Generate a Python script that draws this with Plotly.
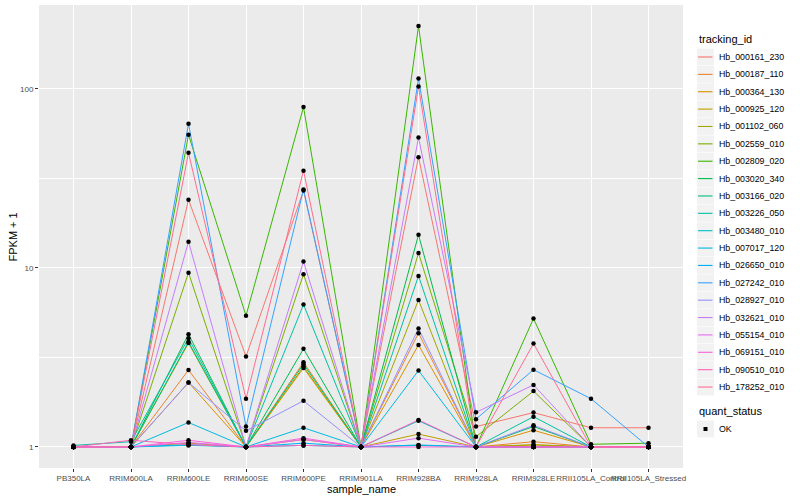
import plotly.graph_objects as go
import numpy as np

samples = ["PB350LA", "RRIM600LA", "RRIM600LE", "RRIM600SE", "RRIM600PE", "RRIM901LA",
           "RRIM928BA", "RRIM928LA", "RRIM928LE", "RRII105LA_Control", "RRII105LA_Stressed"]

tracking_ids = ["Hb_000161_230", "Hb_000187_110", "Hb_000364_130", "Hb_000925_120", "Hb_001102_060",
                "Hb_002559_010", "Hb_002809_020", "Hb_003020_340", "Hb_003166_020", "Hb_003226_050",
                "Hb_003480_010", "Hb_007017_120", "Hb_026650_010", "Hb_027242_010", "Hb_028927_010",
                "Hb_032621_010", "Hb_055154_010", "Hb_069151_010", "Hb_090510_010", "Hb_178252_010"]

colors = ["#F8766D", "#EA8331", "#D89000", "#C09B00", "#A3A500", "#7CAE00", "#39B600", "#00BB4E",
          "#00BF7D", "#00C1A3", "#00BFC4", "#00BAE0", "#00B0F6", "#35A2FF", "#9590FF", "#C77CFF",
          "#E76BF3", "#FA62DB", "#FF62BC", "#FF6C91"]

# FPKM + 1 per sample (order of `samples`)
hb_000161_230 = [1.00, 1.00, 24.0, 3.20, 27.0, 1.00, 41.5, 1.30, 1.555, 1.28, 1.28]
hb_000187_110 = [1.00, 1.00, 2.69, 1.00, 2.97, 1.00, 4.32, 1.00, 1.07, 1.00, 1.00]
hb_000364_130 = [1.00, 1.00, 2.29, 1.00, 2.76, 1.00, 3.71, 1.00, 1.24, 1.00, 1.00]
hb_000925_120 = [1.00, 1.00, 1.05, 1.00, 1.10, 1.00, 1.18, 1.00, 1.03, 1.00, 1.00]
hb_001102_060 = [1.00, 1.00, 3.80, 1.00, 2.81, 1.00, 6.62, 1.00, 1.026, 1.00, 1.00]
hb_002559_010 = [1.00, 1.00, 9.40, 1.00, 9.22, 1.00, 12.1, 1.14, 2.05, 1.00, 1.00]
hb_002809_020 = [1.00, 1.00, 55.3, 5.41, 79.0, 1.00, 224.0, 1.00, 5.21, 1.035, 1.05]
hb_003020_340 = [1.00, 1.00, 4.26, 1.00, 3.53, 1.00, 15.3, 1.00, 1.30, 1.00, 1.00]
hb_003166_020 = [1.00, 1.00, 3.86, 1.00, 2.90, 1.00, 1.02, 1.00, 1.00, 1.00, 1.00]
hb_003226_050 = [1.02, 1.07, 4.05, 1.00, 6.24, 1.00, 9.02, 1.00, 1.476, 1.00, 1.00]
hb_003480_010 = [1.00, 1.00, 1.02, 1.00, 1.02, 1.00, 1.40, 1.00, 1.00, 1.00, 1.00]
hb_007017_120 = [1.00, 1.00, 1.37, 1.00, 1.28, 1.00, 2.67, 1.00, 1.00, 1.00, 1.00]
hb_026650_010 = [1.00, 1.00, 1.03, 1.00, 1.05, 1.00, 1.026, 1.00, 1.00, 1.00, 1.00]
hb_027242_010 = [1.00, 1.00, 63.7, 1.30, 27.4, 1.00, 114.0, 1.43, 2.70, 1.86, 1.00]
hb_028927_010 = [1.00, 1.00, 2.29, 1.23, 1.81, 1.00, 4.58, 1.00, 1.32, 1.00, 1.00]
hb_032621_010 = [1.00, 1.00, 14.0, 1.00, 10.85, 1.00, 53.4, 1.56, 2.22, 1.00, 1.00]
hb_055154_010 = [1.00, 1.00, 1.06, 1.00, 1.10, 1.00, 1.12, 1.00, 1.00, 1.00, 1.00]
hb_069151_010 = [1.00, 1.00, 1.09, 1.00, 1.12, 1.00, 1.00, 1.00, 1.00, 1.00, 1.00]
hb_090510_010 = [1.00, 1.09, 1.03, 1.00, 1.02, 1.00, 1.415, 1.00, 1.00, 1.00, 1.00]
hb_178252_010 = [1.00, 1.00, 43.9, 1.86, 34.9, 1.00, 103.0, 1.00, 3.78, 1.00, 1.00]

series = [hb_000161_230, hb_000187_110, hb_000364_130, hb_000925_120, hb_001102_060,
          hb_002559_010, hb_002809_020, hb_003020_340, hb_003166_020, hb_003226_050,
          hb_003480_010, hb_007017_120, hb_026650_010, hb_027242_010, hb_028927_010,
          hb_032621_010, hb_055154_010, hb_069151_010, hb_090510_010, hb_178252_010]

quant_status = "OK"

y_major = [1, 10, 100]
y_minor = [10 ** 0.5, 10 ** 1.5]

FONT = "Liberation Sans, Arial, Helvetica, sans-serif"

# layout geometry (pixels)
W, H = 800, 500
ML, MR, MT, MB = 39, 117, 5, 32
PW, PH = W - ML - MR, H - MT - MB


def px(xp):
    return (xp - ML) / PW


def py(yp):
    return (H - MB - yp) / PH


fig = go.Figure()
for name, col, vals in zip(tracking_ids, colors, series):
    fig.add_trace(go.Scatter(x=samples, y=vals, mode="lines", name=name,
                             line=dict(color=col, width=1.0), showlegend=False))

all_x = [s for _ in series for s in samples]
all_y = [v for vals in series for v in vals]
fig.add_trace(go.Scatter(x=all_x, y=all_y, mode="markers", name=quant_status,
                         marker=dict(color="black", size=4.5, symbol="circle"),
                         showlegend=False))

logs = np.log10(all_y)
span = logs.max() - logs.min()
yrange = [logs.min() - 0.05 * span, logs.max() + 0.05 * span]

# ggplot-style legend drawn in paper coordinates
shapes = []
annotations = []
KEY_X0, KEY_X1, TEXT_X = 697, 714, 717
ITEM0_Y, ITEM_DY = 57, 17.37

annotations.append(dict(text="tracking_id", x=px(KEY_X0), y=py(39), xref="paper", yref="paper",
                        xanchor="left", yanchor="middle", showarrow=False,
                        font=dict(size=11, color="black", family=FONT)))
for i, (name, col) in enumerate(zip(tracking_ids, colors)):
    yc = ITEM0_Y + ITEM_DY * i
    shapes.append(dict(type="rect", xref="paper", yref="paper",
                       x0=px(KEY_X0), x1=px(KEY_X1), y0=py(yc - 8.4), y1=py(yc + 8.4),
                       fillcolor="#F2F2F2", line=dict(width=0), layer="above"))
    shapes.append(dict(type="line", xref="paper", yref="paper",
                       x0=px(KEY_X0 + 1), x1=px(KEY_X1 - 1.5), y0=py(yc), y1=py(yc),
                       line=dict(color=col, width=1.1), layer="above"))
    annotations.append(dict(text=name, x=px(TEXT_X), y=py(yc), xref="paper", yref="paper",
                            xanchor="left", yanchor="middle", showarrow=False,
                            font=dict(size=8.8, color="black", family=FONT)))

QS_TITLE_Y, QS_ITEM_Y = 411, 429
annotations.append(dict(text="quant_status", x=px(KEY_X0), y=py(QS_TITLE_Y), xref="paper", yref="paper",
                        xanchor="left", yanchor="middle", showarrow=False,
                        font=dict(size=11, color="black", family=FONT)))
shapes.append(dict(type="rect", xref="paper", yref="paper",
                   x0=px(KEY_X0), x1=px(KEY_X1), y0=py(QS_ITEM_Y - 8.4), y1=py(QS_ITEM_Y + 8.4),
                   fillcolor="#F2F2F2", line=dict(width=0), layer="above"))
kx = (KEY_X0 + KEY_X1) / 2
shapes.append(dict(type="rect", xref="paper", yref="paper",
                   x0=px(kx - 2), x1=px(kx + 2), y0=py(QS_ITEM_Y - 2), y1=py(QS_ITEM_Y + 2),
                   fillcolor="black", line=dict(width=0), layer="above"))
annotations.append(dict(text=quant_status, x=px(TEXT_X), y=py(QS_ITEM_Y), xref="paper", yref="paper",
                        xanchor="left", yanchor="middle", showarrow=False,
                        font=dict(size=8.8, color="black", family=FONT)))

# axis titles
annotations.append(dict(text="sample_name", x=0.5, y=py(489), xref="paper", yref="paper",
                        xanchor="center", yanchor="middle", showarrow=False,
                        font=dict(size=11, color="black", family=FONT)))
annotations.append(dict(text="FPKM + 1", x=px(12), y=0.5, xref="paper", yref="paper",
                        xanchor="center", yanchor="middle", showarrow=False, textangle=-90,
                        font=dict(size=11, color="black", family=FONT)))

fig.update_layout(
    width=W, height=H,
    margin=dict(l=ML, r=MR, t=MT, b=MB, autoexpand=False),
    paper_bgcolor="white", plot_bgcolor="#EBEBEB",
    font=dict(family=FONT, size=8, color="#4D4D4D"),
    showlegend=False,
    xaxis=dict(type="category", categoryorder="array", categoryarray=samples,
               range=[-0.6, len(samples) - 0.4], tickangle=0, automargin=False,
               showgrid=True, gridcolor="white", gridwidth=1.1, zeroline=False,
               ticks="outside", ticklen=3, tickcolor="#333333", tickwidth=1,
               ticklabelstandoff=-1,
               tickfont=dict(size=8, color="#4D4D4D", family=FONT),
               showline=False, fixedrange=True),
    yaxis=dict(type="log", range=yrange, tickvals=y_major, ticktext=[str(v) for v in y_major],
               automargin=False,
               showgrid=True, gridcolor="white", gridwidth=1.1, zeroline=False,
               ticks="outside", ticklen=3, tickcolor="#333333", tickwidth=1,
               tickfont=dict(size=8, color="#4D4D4D", family=FONT),
               minor=dict(tickmode="array", tickvals=y_minor, showgrid=True,
                          gridcolor="white", gridwidth=0.6, ticks=""),
               showline=False, fixedrange=True),
    shapes=shapes,
    annotations=annotations,
)

fig.write_html("out.html", config={"displayModeBar": False},
               post_script="document.body.style.margin='0px';")
